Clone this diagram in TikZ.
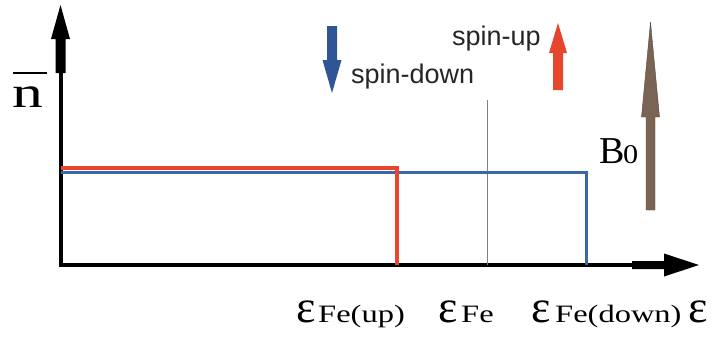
\documentclass[tikz,border=0pt]{standalone}
\usepackage{fontspec}
\setmainfont{Liberation Serif}
\newfontfamily\arialfont{Liberation Sans}
\definecolor{redline}{HTML}{E8452F}
\definecolor{blueline}{HTML}{3B66AA}
\definecolor{bluearrow}{HTML}{2F5597}
\definecolor{brownarrow}{HTML}{7A6554}
\definecolor{greyline}{HTML}{808080}
\newcommand{\stretchtxt}[1]{\scalebox{1.3}[1]{#1}}
\tikzset{
  lbl/.style={inner sep=0pt, anchor=base west},
  spinlbl/.style={lbl, font=\arialfont\fontsize{27}{30}\selectfont, text=black!85},
  epslbl/.style={lbl, font=\fontsize{46}{50}\selectfont},
  sublbl/.style={lbl, font=\fontsize{25}{28}\selectfont},
  axisfill/.style={fill=black, draw=none},
}
\begin{document}
\begin{tikzpicture}[x=1pt,y=-1pt]
\useasboundingbox (0,0) rectangle (720,340);
% y axis
\coordinate (origin) at (61,265);
\coordinate (ytop) at (61,72);
\draw[line width=3.5pt] (origin) -- (ytop);
\fill[axisfill] (55.5,73) -- (55.5,39) -- (51,39) -- (60.5,5) -- (70,39) -- (65.5,39) -- (65.5,73) -- cycle;
% x axis
\coordinate (xend) at (633,265);
\draw[line width=3.5pt] (59.25,265) -- (xend);
\fill[axisfill] (632,261) -- (664,261) -- (664,253.5) -- (699,265) -- (664,276.5) -- (664,269) -- (632,269) -- cycle;
% grey Fermi line
\coordinate (fe0) at (487,100);
\coordinate (fe1) at (487,265);
\draw[greyline, line width=0.8pt] (fe0) -- (fe1);
% blue (spin-down) distribution
\coordinate (b0) at (61,172);
\coordinate (b1) at (586,172);
\coordinate (b2) at (586,265);
\draw[blueline, line width=3pt] (b0) -- (b1) -- (b2);
% red (spin-up) distribution
\coordinate (r0) at (61,168);
\coordinate (r1) at (397,168);
\coordinate (r2) at (397,265);
\draw[redline, line width=3.5pt] (r0) -- (r1) -- (r2);
% spin-down arrow
\fill[bluearrow] (327,26) -- (337,26) -- (337,60) -- (341.5,60) -- (332,93) -- (322.5,60) -- (327,60) -- cycle;
% spin-up arrow
\fill[redline] (553,90) -- (563,90) -- (563,53) -- (567,53) -- (558,23) -- (549,53) -- (553,53) -- cycle;
% B0 arrow
\fill[brownarrow, draw=brownarrow!70!black, line width=0.4pt] (646,210) -- (655,210) -- (655,117) -- (659.5,117) -- (650.5,22) -- (641.5,117) -- (646,117) -- cycle;
% labels
\node[spinlbl] (sd) at (351,83) {spin-down};
\node[spinlbl] (su) at (452,45) {spin-up};
\node[lbl, font=\fontsize{38}{42}\selectfont] (B) at (599,163) {B};
\node[lbl, font=\fontsize{27}{30}\selectfont] (B0) at (623,163) {\scalebox{1.12}[1]{0}};
\node[lbl, font=\fontsize{44}{48}\selectfont] (nbar) at (12,107) {\scalebox{1.4}[1]{n}};
\draw[line width=1.8pt] (13,73) -- (47,73);
\node[epslbl] (e1) at (296,322) {ε};
\node[sublbl] (s1) at (318,322) {\stretchtxt{Fe(up)}};
\node[epslbl] (e2) at (438,322) {ε};
\node[sublbl] (s2) at (461,322) {\stretchtxt{Fe}};
\node[epslbl] (e3) at (531,322) {ε};
\node[sublbl] (s3) at (555,322) {\stretchtxt{Fe(down)}};
\node[epslbl] (e4) at (688,322) {ε};
\end{tikzpicture}
\end{document}
